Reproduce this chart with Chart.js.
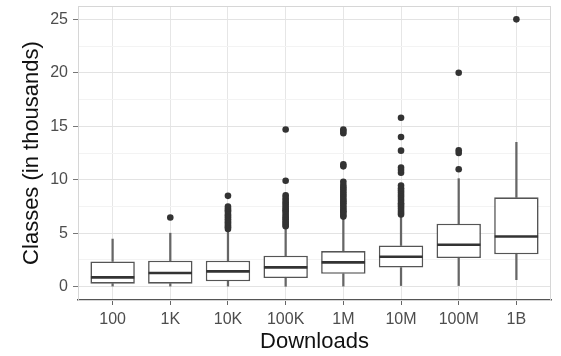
<!DOCTYPE html>
<html>
<head>
<meta charset="utf-8">
<script src="https://cdn.jsdelivr.net/npm/chart.js@4/dist/chart.umd.min.js"></script>
<style>
  html, body { margin: 0; padding: 0; background: #fff; }
  #wrap { width: 561px; height: 356px; }
</style>
</head>
<body>
<div id="wrap"><canvas id="boxChart"></canvas></div>
<script>
// categories and box statistics (in thousands of classes)
const downloads = ['100', '1K', '10K', '100K', '1M', '10M', '100M', '1B'];
const whiskerLow = [0.05, 0.05, 0.05, 0.03, 0.05, 0.1, 0.1, 0.65];
const q1 = [0.28, 0.28, 0.5, 0.81, 1.2, 1.78, 2.68, 3.02];
const median = [0.87, 1.28, 1.43, 1.8, 2.27, 2.8, 3.92, 4.69];
const q3 = [2.36, 2.43, 2.43, 2.89, 3.33, 3.85, 5.88, 8.35];
const whiskerHigh = [4.45, 5.0, 5.3, 5.5, 6.4, 6.6, 10.1, 13.5];

// outliers per category
const out100 = [];
const out1K = [6.46];
const out10K = [5.4, 5.55, 5.7, 5.85, 6.0, 6.15, 6.3, 6.5, 6.65, 6.8, 7.0, 7.15, 7.3, 7.5, 8.49];
const out100K = [5.65, 5.8, 5.95, 6.1, 6.3, 6.45, 6.6, 6.8, 7.0, 7.15, 7.3, 7.5, 7.7, 7.9, 8.1, 8.3, 8.55, 9.9, 14.7];
const out1M = [6.55, 6.7, 6.9, 7.05, 7.2, 7.4, 7.6, 7.8, 7.95, 8.1, 8.3, 8.5, 8.7, 8.9, 9.1, 9.3, 9.5, 9.8, 11.25, 11.45, 14.35, 14.55, 14.7];
const out10M = [6.75, 6.9, 7.1, 7.3, 7.5, 7.65, 7.8, 8.0, 8.2, 8.4, 8.6, 8.8, 9.0, 9.2, 9.45, 10.65, 10.9, 11.15, 12.72, 14.0, 15.8];
const out100M = [10.98, 12.5, 12.75, 20.0];
const out1B = [25.0];
const outliers = [out100, out1K, out10K, out100K, out1M, out10M, out100M, out1B];

const yTicks = [0, 2.5, 5, 7.5, 10, 12.5, 15, 17.5, 20, 22.5, 25];

const FONT = "'Liberation Sans', Arial, Helvetica, sans-serif";

// median lines and the panel border
const boxExtras = {
  id: 'boxExtras',
  beforeDatasetsDraw(chart) {
    const a = chart.chartArea, c = chart.ctx;
    c.save();
    c.strokeStyle = '#d6d6d6';
    c.lineWidth = 1;
    c.strokeRect(a.left + 0.5, a.top + 0.5, a.right - a.left - 1, a.bottom - a.top);
    c.restore();
  },
  afterDatasetsDraw(chart) {
    const c = chart.ctx;
    const x = chart.scales.x, y = chart.scales.y;
    const boxes = chart.getDatasetMeta(0).data;
    c.save();
    c.strokeStyle = '#333';
    c.lineWidth = 2.6;
    median.forEach((m, i) => {
      const cx = x.getPixelForValue(i);
      const hw = boxes[i].width / 2;
      const py = y.getPixelForValue(m);
      c.beginPath();
      c.moveTo(cx - hw + 0.5, py);
      c.lineTo(cx + hw - 0.5, py);
      c.stroke();
    });
    c.restore();
  }
};

const outlierPoints = [];
outliers.forEach((list, i) => list.forEach(v => outlierPoints.push({ x: i, y: v })));

const ctx = document.getElementById('boxChart').getContext('2d');
const boxChart = new Chart(ctx, {
  type: 'bar',
  data: {
    datasets: [
      {
        label: 'box',
        data: downloads.map((d, i) => ({ x: i, y: [q1[i], q3[i]] })),
        backgroundColor: '#ffffff',
        borderColor: '#555',
        borderWidth: 1.6,
        borderSkipped: false,
        categoryPercentage: 1,
        barPercentage: 0.77,
        grouped: false,
        order: 1
      },
      {
        label: 'lower whisker',
        data: downloads.map((d, i) => ({ x: i, y: [whiskerLow[i], q1[i]] })),
        backgroundColor: '#666',
        borderWidth: 0,
        barThickness: 1.6,
        grouped: false,
        order: 2
      },
      {
        label: 'upper whisker',
        data: downloads.map((d, i) => ({ x: i, y: [q3[i], whiskerHigh[i]] })),
        backgroundColor: '#666',
        borderWidth: 0,
        barThickness: 1.6,
        grouped: false,
        order: 2
      },
      {
        type: 'line',
        label: 'outliers',
        data: outlierPoints,
        showLine: false,
        pointRadius: 3.3,
        pointBackgroundColor: '#333',
        pointBorderWidth: 0,
        order: 0
      }
    ]
  },
  options: {
    responsive: true,
    maintainAspectRatio: false,
    animation: false,
    layout: { padding: { top: 6, right: 10, left: 0, bottom: 0 } },
    plugins: {
      legend: { display: false },
      tooltip: { enabled: false }
    },
    scales: {
      x: {
        type: 'linear',
        min: -0.6,
        max: 7.6,
        offset: false,
        afterBuildTicks: s => { s.ticks = downloads.map((d, i) => ({ value: i })); },
        afterFit: s => { s.height = 56; },
        grid: {
          offset: false,
          color: '#e6e6e6',
          tickColor: '#666',
          tickLength: 5
        },
        border: { color: '#555', width: 1.5 },
        ticks: {
          callback: v => downloads[v],
          color: '#4d4d4d',
          font: { family: FONT, size: 16 },
          padding: 5,
          maxRotation: 0,
          autoSkip: false
        },
        title: {
          display: true,
          text: 'Downloads',
          color: '#111',
          font: { family: FONT, size: 22 },
          padding: { top: 0, bottom: 1 }
        }
      },
      y: {
        min: -1.25,
        max: 26.25,
        afterBuildTicks: s => { s.ticks = yTicks.map(v => ({ value: v })); },
        afterFit: s => { s.width = 78; s.paddingTop = 0; s.paddingBottom = 0; },
        grid: {
          color: c => (c.tick && c.tick.value % 5 === 0) ? '#e3e3e3' : '#f3f3f3',
          tickColor: c => (c.tick && c.tick.value % 5 === 0) ? '#777' : 'rgba(0,0,0,0)',
          tickLength: 5
        },
        border: { color: '#d6d6d6', width: 1 },
        ticks: {
          callback: v => (v % 5 === 0 ? String(v) : ''),
          color: '#4d4d4d',
          font: { family: FONT, size: 16 },
          padding: 5
        },
        title: {
          display: true,
          text: 'Classes (in thousands)',
          color: '#111',
          font: { family: FONT, size: 22 },
          padding: { top: 19, bottom: 0 }
        }
      }
    }
  },
  plugins: [boxExtras]
});
</script>
</body>
</html>
